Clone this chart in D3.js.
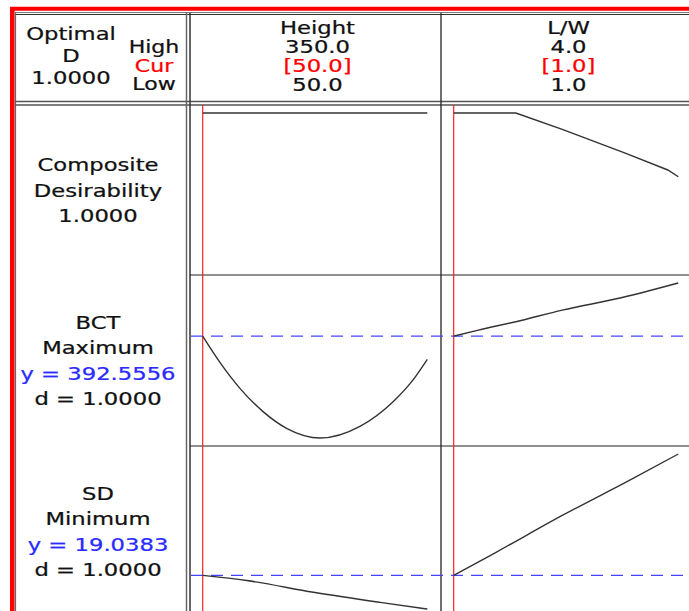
<!DOCTYPE html>
<html>
<head>
<meta charset="utf-8">
<script src="https://cdn.jsdelivr.net/npm/d3@7"></script>
<style>
  html, body { margin: 0; padding: 0; background: #fff; }
  svg { display: block; }
  text { font-family: "DejaVu Sans", Verdana, sans-serif; font-size: 18px; }
</style>
</head>
<body>
<svg id="chart" width="689" height="611"></svg>
<script>
// ---- Factors (columns) ----
const factorNames = ["Height", "L/W"];
const factorHigh  = [350.0, 4.0];
const factorCur   = [50.0, 1.0];
const factorLow   = [50.0, 1.0];

// ---- Responses (rows) ----
const responseNames = ["BCT", "SD"];
const responseGoals = ["Maximum", "Minimum"];
const responseY     = [392.5556, 19.0383];
const responseD     = [1.0, 1.0];
const compositeD    = 1.0;
const optimalD      = 1.0;

// Vertical extent of each row's panel (value domain)
const rowDomains = [[0, 1], [340, 420], [16, 30]];

// ---- Profile curves: composite desirability ----
const desirHeightX = [50, 100, 150, 200, 250, 300, 350];
const desirHeightY = [1, 1, 1, 1, 1, 1, 1];
const desirLWX = [1.0, 1.4, 1.83, 2.45, 3.30, 3.86, 4.0];
const desirLWY = [1.0, 1.0, 1.0, 0.894, 0.738, 0.630, 0.586];

// ---- Profile curves: BCT ----
const bctHeightX = [50, 73, 100, 131, 162, 207, 260, 305, 331, 350];
const bctHeightY = [392.5556, 379.0, 365.5, 353.5, 345.0, 340.0, 346.0, 359.0, 370.0, 380.6];
const bctLWX = [1.0, 1.33, 1.83, 2.45, 3.25, 4.0];
const bctLWY = [392.5556, 395.7, 400.0, 406.0, 412.5, 420.0];

// ---- Profile curves: SD ----
const sdHeightX = [50, 109, 198, 287, 350];
const sdHeightY = [19.0383, 18.57, 17.51, 16.60, 16.0];
const sdLWX = [1.0, 1.56, 2.45, 3.34, 4.0];
const sdLWY = [19.0383, 21.1, 24.45, 27.6, 30.0];

const curves = [
  [[desirHeightX, desirHeightY], [desirLWX, desirLWY]],
  [[bctHeightX, bctHeightY], [bctLWX, bctLWY]],
  [[sdHeightX, sdHeightY], [sdLWX, sdLWY]]
];
const rowCurveTypes = [d3.curveLinear, d3.curveMonotoneX, d3.curveMonotoneX];

// ---- Layout ----
const W = 689, H = 611;
const colEdges = [190, 441, 692];
const rowEdges = [105, 275, 446, 617];
const padL = 12.7, padR = 13.7, padV = 8;
const lineGap = 25.3;
const stretch = 1.26;

const svg = d3.select("#chart");
svg.append("rect").attr("width", W).attr("height", H).attr("fill", "#fff");

const xScales = factorNames.map((_, c) =>
  d3.scaleLinear().domain([factorLow[c], factorHigh[c]])
    .range([colEdges[c] + padL, colEdges[c + 1] - padR]));
const yScales = rowDomains.map((dom, r) =>
  d3.scaleLinear().domain(dom)
    .range([rowEdges[r + 1] - padV, rowEdges[r] + padV]));

// Centered, horizontally widened text
function label(x, y, str, color, size) {
  const c = color || "#111";
  svg.append("text")
    .attr("transform", `translate(${x},${y}) scale(${stretch},1)`)
    .attr("text-anchor", "middle")
    .attr("fill", c)
    .attr("stroke", c).attr("stroke-width", 0.25)
    .style("font-size", (size || 18) + "px")
    .text(str);
}

function hline(y, x0, x1, color, w) {
  svg.append("line").attr("x1", x0).attr("x2", x1).attr("y1", y).attr("y2", y)
    .attr("stroke", color).attr("stroke-width", w);
}
function vline(x, y0, y1, color, w) {
  svg.append("line").attr("x1", x).attr("x2", x).attr("y1", y0).attr("y2", y1)
    .attr("stroke", color).attr("stroke-width", w);
}

// ---- Outer frame ----
hline(8.7, 10, W, "#ff0000", 4);
vline(12.3, 7, H, "#ff0000", 4.6);

// ---- Grid lines ----
hline(12.5, 15, W, "#777", 1);
hline(14.5, 15, W, "#333", 1.2);
vline(15.5, 13, H, "#666", 1.2);
hline(101.5, 15, W, "#555", 1.5);
hline(105, 15, W, "#555", 1.5);
vline(186.5, 13, H, "#666", 1.5);
vline(190, 13, H, "#333", 1.5);
vline(colEdges[1], 13, H, "#222", 1.3);
hline(rowEdges[1], 190, W, "#222", 1.2);
hline(rowEdges[2], 190, W, "#222", 1.2);

// ---- Header: optimal D and High/Cur/Low legend ----
label(71, 40, "Optimal");
label(71, 62, "D");
label(71, 83.5, optimalD.toFixed(4));
label(154, 53, "High", null, 17.5);
label(154, 71.5, "Cur", "#ff0000", 17.5);
label(154, 90, "Low", null, 17.5);

// ---- Header: factor settings ----
factorNames.forEach((name, c) => {
  const cx = (xScales[c].range()[0] + xScales[c].range()[1]) / 2 + 2.5;
  label(cx, 33.5, name);
  label(cx, 53, factorHigh[c].toFixed(1));
  label(cx, 72, "[" + factorCur[c].toFixed(1) + "]", "#ff0000");
  label(cx, 91, factorLow[c].toFixed(1));
});

// ---- Row labels ----
const rowLabels = [
  [["Composite"], ["Desirability"], [compositeD.toFixed(4)]],
  [[responseNames[0]], [responseGoals[0]], ["y = " + responseY[0].toFixed(4), "#2b2bff"], ["d = " + responseD[0].toFixed(4)]],
  [[responseNames[1]], [responseGoals[1]], ["y = " + responseY[1].toFixed(4), "#2b2bff"], ["d = " + responseD[1].toFixed(4)]]
];
rowLabels.forEach((lines, r) => {
  const cy = (rowEdges[r] + rowEdges[r + 1]) / 2 + 6.5;
  const n = lines.length;
  lines.forEach((ln, i) => {
    label(98, cy + (i - (n - 1) / 2) * lineGap, ln[0], ln[1]);
  });
});

// ---- Current-setting lines (red) ----
factorNames.forEach((_, c) => {
  vline(xScales[c](factorCur[c]), rowEdges[0], H, "#ff2020", 1.2);
});

// ---- Predicted response at current setting (blue dashed) ----
responseY.forEach((v, i) => {
  const y = yScales[i + 1](v);
  svg.append("line").attr("x1", 190).attr("x2", W).attr("y1", y).attr("y2", y)
    .attr("stroke", "#4444ff").attr("stroke-width", 1.4)
    .attr("stroke-dasharray", "12,8").attr("stroke-dashoffset", -1);
});

// ---- Profile curves ----
curves.forEach((row, r) => {
  row.forEach((pair, c) => {
    const pts = pair[0].map((x, i) => [x, pair[1][i]]);
    const line = d3.line()
      .x(d => xScales[c](d[0]))
      .y(d => yScales[r](d[1]))
      .curve(rowCurveTypes[r]);
    svg.append("path").attr("d", line(pts))
      .attr("fill", "none").attr("stroke", "#333").attr("stroke-width", 1.4);
  });
});
</script>
</body>
</html>
